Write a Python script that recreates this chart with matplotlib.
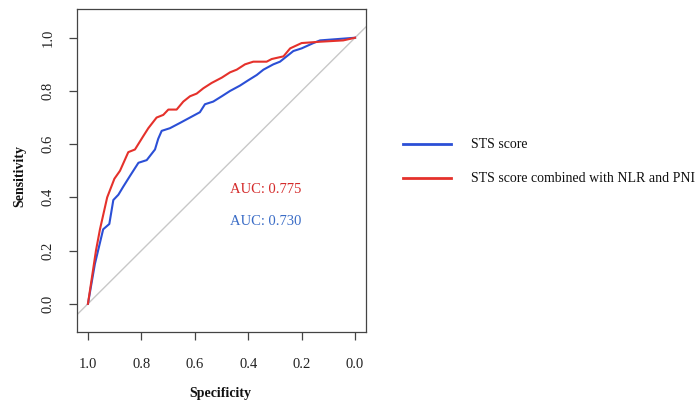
import matplotlib
matplotlib.use("Agg")
import matplotlib.pyplot as plt
from matplotlib.lines import Line2D

plt.rcParams['font.family'] = ['Liberation Serif', 'DejaVu Serif']

# Data (specificity, sensitivity)
red_spec = [1.0, 0.970, 0.955, 0.928, 0.901, 0.880, 0.849, 0.824, 0.793, 0.774, 0.743, 0.718,
            0.699, 0.668, 0.643, 0.618, 0.593, 0.568, 0.537, 0.499, 0.468, 0.443, 0.412, 0.381,
            0.331, 0.312, 0.268, 0.243, 0.200, 0.131, 0.044, 0.0]
red_sens = [0.0, 0.20, 0.28, 0.40, 0.47, 0.50, 0.57, 0.58, 0.63, 0.66, 0.70, 0.71,
            0.73, 0.73, 0.76, 0.78, 0.79, 0.81, 0.83, 0.85, 0.87, 0.88, 0.90, 0.91,
            0.91, 0.92, 0.93, 0.96, 0.98, 0.985, 0.99, 1.0]

blue_spec = [1.0, 0.974, 0.943, 0.920, 0.905, 0.886, 0.868, 0.843, 0.811, 0.780, 0.749, 0.737,
             0.724, 0.693, 0.655, 0.618, 0.581, 0.562, 0.531, 0.499, 0.468, 0.431, 0.400, 0.368,
             0.343, 0.306, 0.281, 0.256, 0.231, 0.200, 0.156, 0.131, 0.0]
blue_sens = [0.0, 0.15, 0.28, 0.30, 0.39, 0.41, 0.44, 0.48, 0.53, 0.54, 0.58, 0.62,
             0.65, 0.66, 0.68, 0.70, 0.72, 0.75, 0.76, 0.78, 0.80, 0.82, 0.84, 0.86,
             0.88, 0.90, 0.91, 0.93, 0.95, 0.96, 0.98, 0.99, 1.0]

ticks = [1.0, 0.8, 0.6, 0.4, 0.2, 0.0]
tick_labels = ["1.0", "0.8", "0.6", "0.4", "0.2", "0.0"]
series_names = ["STS score", "STS score combined with NLR and PNI"]
auc_texts = ["AUC: 0.730", "AUC: 0.775"]

blue = '#2b4fd6'
red = '#e5312b'
blue_txt = '#3a6cc6'
red_txt = '#d42b2b'

W, H = 698, 405
fig = plt.figure(figsize=(W / 100, H / 100), dpi=100)
ax = fig.add_axes([77 / W, (H - 332) / H, 289 / W, 323 / H])
ax.set_xlim(1.041, -0.041)
ax.set_ylim(-0.106, 1.108)

ax.axline((1, 0), (0, 1), color='#c8c8c8', lw=1.0, zorder=1)
ax.plot(blue_spec, blue_sens, color=blue, lw=1.5, zorder=3)
ax.plot(red_spec, red_sens, color=red, lw=1.5, zorder=4)

ax.set_xticks(ticks)
ax.set_xticklabels(tick_labels)
ax.set_yticks(ticks[::-1])
ax.set_yticklabels(tick_labels[::-1], rotation=90, va='center')
ax.tick_params(axis='both', direction='out', length=6, width=0.9, colors='#444444',
               labelcolor='#222222', labelsize=10.5)
ax.tick_params(axis='x', pad=13)
ax.tick_params(axis='y', pad=10)
for s in ax.spines.values():
    s.set_color('#444444')
    s.set_linewidth(0.9)

ax.text(0.468, 0.431, auc_texts[1], color=red_txt, fontsize=10.5, ha='left', va='center')
ax.text(0.468, 0.311, auc_texts[0], color=blue_txt, fontsize=10.5, ha='left', va='center')

fig.text(20 / W, 1 - 176 / H, "Sensitivity", rotation=90, fontsize=10, fontweight='bold',
         ha='center', va='center', color='#111111')
fig.text(220 / W, 1 - 394 / H, "Specificity", fontsize=10, fontweight='bold',
         ha='center', va='center', color='#111111')

# legend
for yy, col, name in [(144, blue, series_names[0]), (178, red, series_names[1])]:
    fig.add_artist(Line2D([403 / W, 451 / W], [1 - yy / H, 1 - yy / H], color=col, lw=2.0,
                          transform=fig.transFigure))
    fig.text(471 / W, 1 - yy / H, name, fontsize=10, ha='left', va='center', color='#111111')

fig.savefig("out.png", dpi=100)
